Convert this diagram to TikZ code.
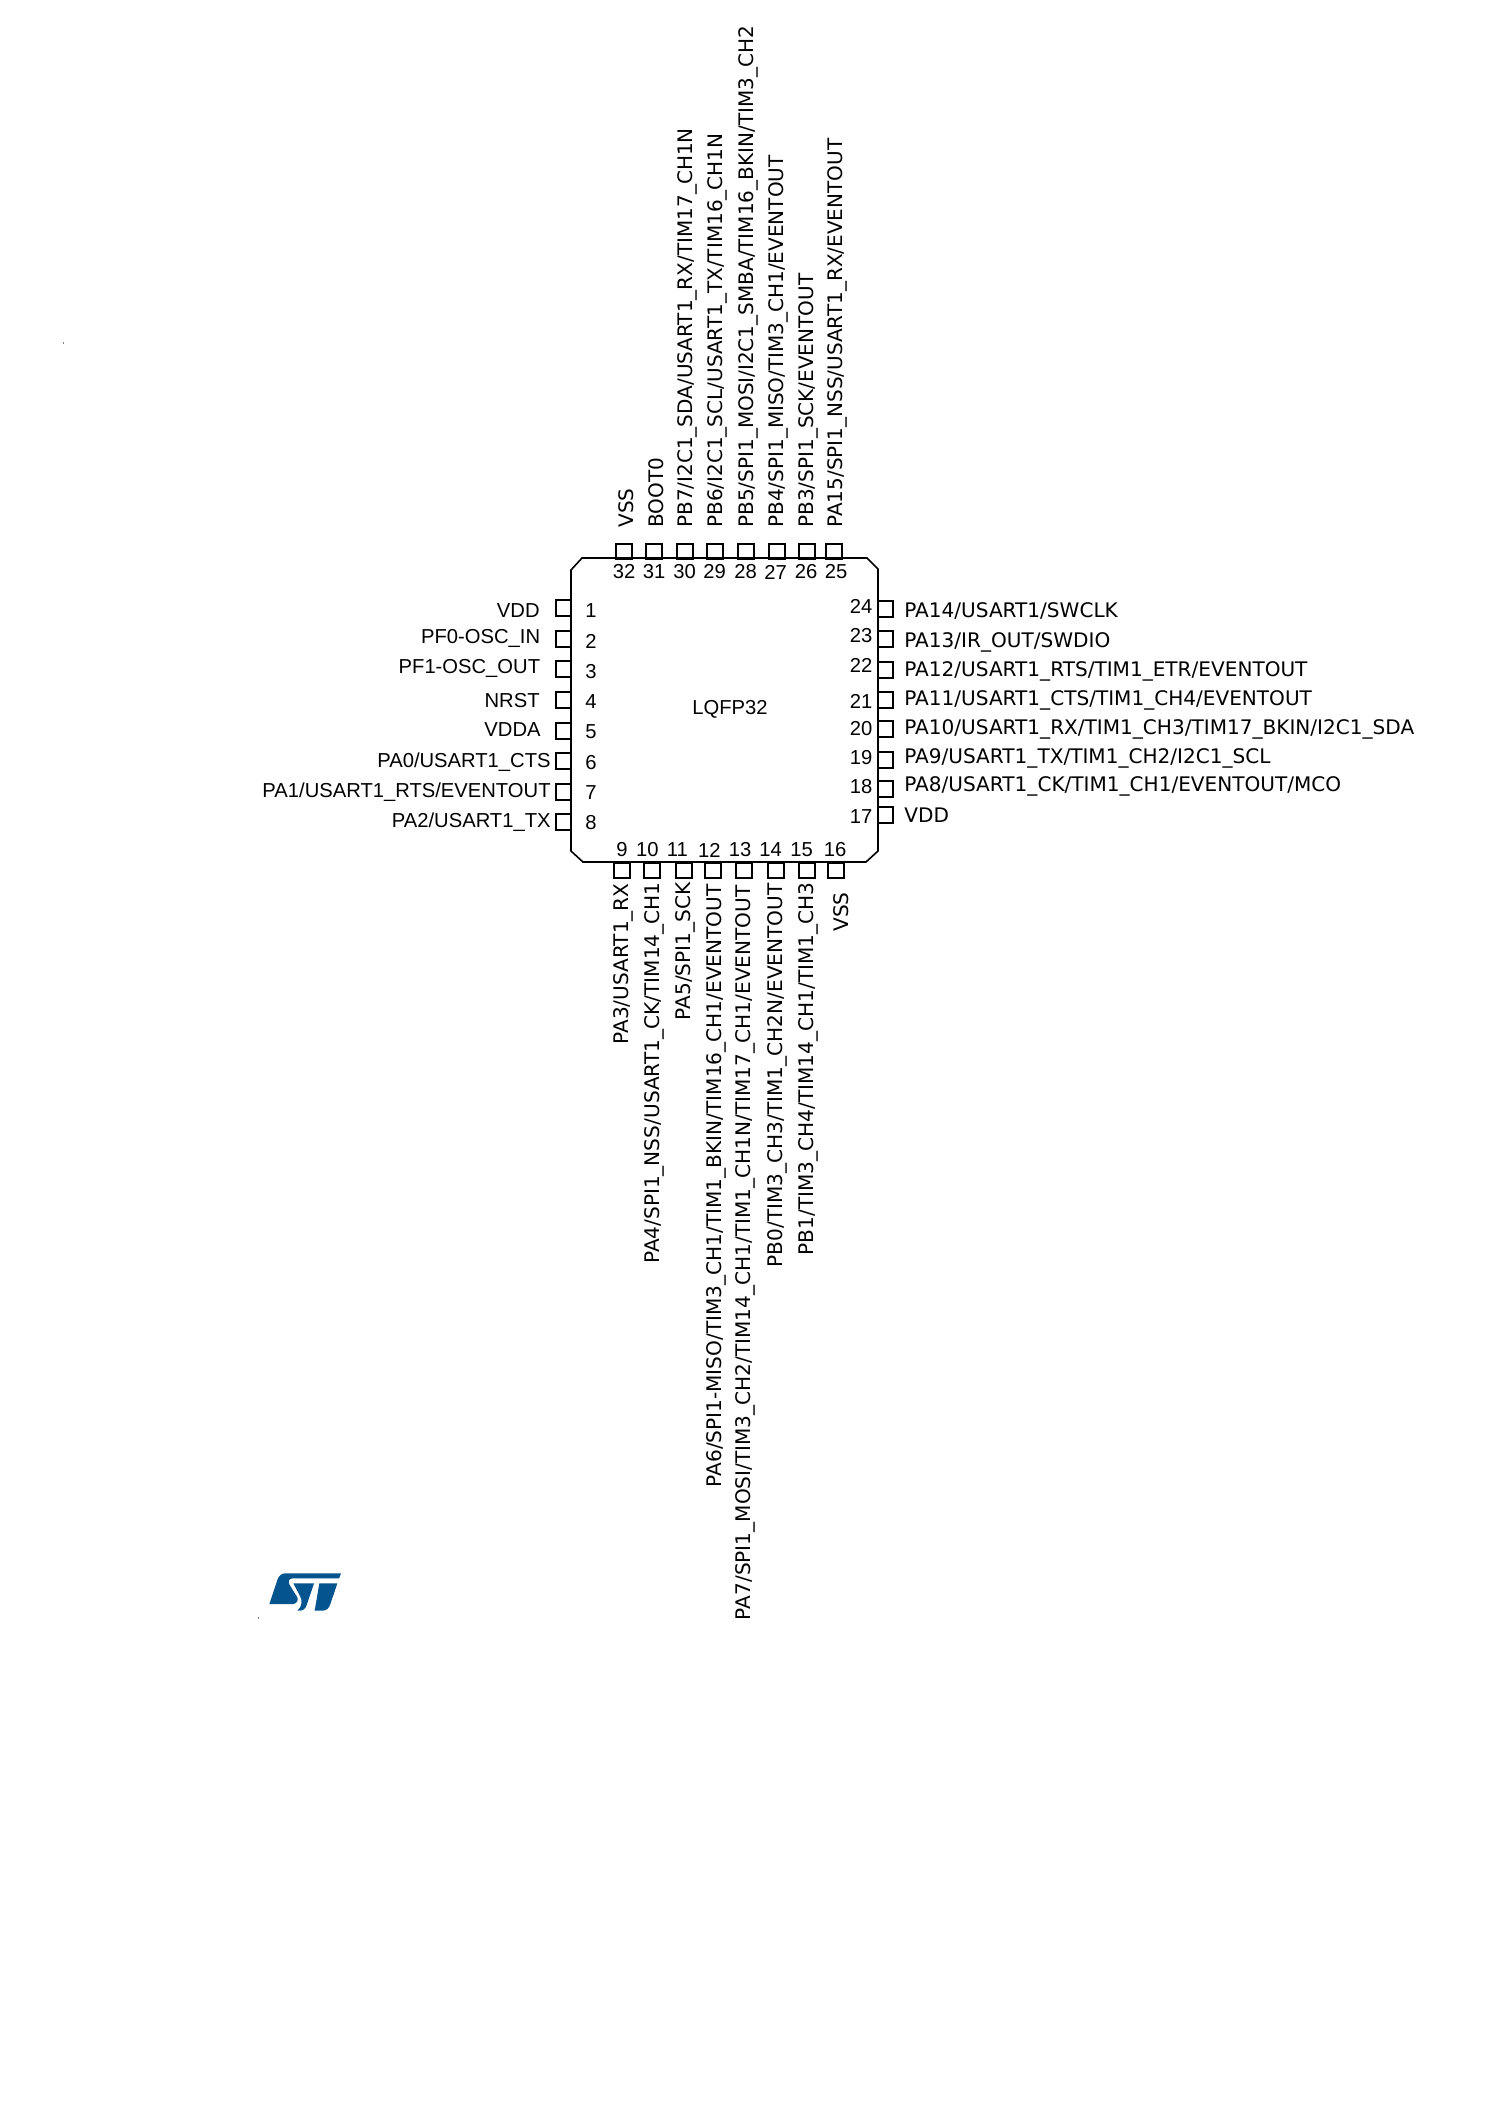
\documentclass[tikz,border=0pt]{standalone}
\usepackage{fontspec}
\setmainfont{Liberation Sans}
\newfontfamily\labelfont{DejaVu Sans}
\definecolor{stblue}{HTML}{03548F}
\tikzset{
  pinv/.style={draw=black,line width=1pt,minimum width=8pt,minimum height=7.5pt,inner sep=0pt,outer sep=0pt},
  pinh/.style={draw=black,line width=1pt,minimum width=7.5pt,minimum height=8pt,inner sep=0pt,outer sep=0pt},
  pinnum/.style={font=\fontsize{10.1}{12}\selectfont,inner sep=0pt,text=black},
  llabel/.style={font=\fontsize{10.1}{12}\selectfont,inner sep=0pt,anchor=base east,text=black},
  rlabel/.style={font=\labelfont\fontsize{10.03}{12}\selectfont,inner sep=0pt,anchor=base west,text=black},
  vlabel/.style={font=\labelfont\fontsize{10}{12}\selectfont,inner sep=0pt,anchor=base west,rotate=90,text=black},
  vlabelend/.style={font=\labelfont\fontsize{10.05}{12}\selectfont,inner sep=0pt,anchor=base east,rotate=90,text=black},
}
\begin{document}
\begin{tikzpicture}[x=0.5pt,y=-0.5pt]
\useasboundingbox (0,0) rectangle (1500,2121);
\fill[white] (0,0) rectangle (1500,2121);
% package outline
\draw[line width=0.8pt,black] (582,558) -- (867,558) -- (878,569) -- (878,851) -- (866,862) -- (583,862) -- (571,851) -- (571,570) -- cycle;
\node[font=\fontsize{10.1}{12}\selectfont,inner sep=0pt,text=black] (pkg) at (730,709) {LQFP32};
% left pins
\node[pinh] (pin1) at (563.5,608) {};
\node[pinh] (pin2) at (563.5,639) {};
\node[pinh] (pin3) at (563.5,669) {};
\node[pinh] (pin4) at (563.5,700) {};
\node[pinh] (pin5) at (563.5,731) {};
\node[pinh] (pin6) at (563.5,761) {};
\node[pinh] (pin7) at (563.5,792) {};
\node[pinh] (pin8) at (563.5,822) {};
% bottom pins
\node[pinv] (pin9) at (622,870) {};
\node[pinv] (pin10) at (652.3,870) {};
\node[pinv] (pin11) at (683.7,870) {};
\node[pinv] (pin12) at (713.3,870) {};
\node[pinv] (pin13) at (744.3,870) {};
\node[pinv] (pin14) at (775.5,870) {};
\node[pinv] (pin15) at (806.5,870) {};
\node[pinv] (pin16) at (836,870) {};
% right pins
\node[pinh] (pin17) at (885,815) {};
\node[pinh] (pin18) at (885,789) {};
\node[pinh] (pin19) at (885,759.7) {};
\node[pinh] (pin20) at (885,729.3) {};
\node[pinh] (pin21) at (885,700) {};
\node[pinh] (pin22) at (885,669.7) {};
\node[pinh] (pin23) at (885,639) {};
\node[pinh] (pin24) at (885,609) {};
% top pins
\node[pinv] (pin25) at (834,551) {};
\node[pinv] (pin26) at (806.7,551) {};
\node[pinv] (pin27) at (776.5,551) {};
\node[pinv] (pin28) at (745.7,551) {};
\node[pinv] (pin29) at (715.3,551) {};
\node[pinv] (pin30) at (684.7,551) {};
\node[pinv] (pin31) at (654,551) {};
\node[pinv] (pin32) at (624,551) {};
% pin numbers
\node[pinnum] (n1) at (591,611) {1};
\node[pinnum] (n2) at (591,641) {2};
\node[pinnum] (n3) at (591,671.7) {3};
\node[pinnum] (n4) at (591,702) {4};
\node[pinnum] (n5) at (591,732) {5};
\node[pinnum] (n6) at (591,762.3) {6};
\node[pinnum] (n7) at (591,792.7) {7};
\node[pinnum] (n8) at (591,822.7) {8};
\node[pinnum] (n9) at (622,850) {9};
\node[pinnum] (n10) at (647.3,850) {10};
\node[pinnum] (n11) at (677.3,850) {11};
\node[pinnum] (n12) at (709.3,850) {12};
\node[pinnum] (n13) at (740,850) {13};
\node[pinnum] (n14) at (770.7,850) {14};
\node[pinnum] (n15) at (801.7,850) {15};
\node[pinnum] (n16) at (835,850) {16};
\node[pinnum] (n17) at (861,816.7) {17};
\node[pinnum] (n18) at (861,786.7) {18};
\node[pinnum] (n19) at (861,757.3) {19};
\node[pinnum] (n20) at (861,728.3) {20};
\node[pinnum] (n21) at (861,701.7) {21};
\node[pinnum] (n22) at (861,665.7) {22};
\node[pinnum] (n23) at (861,636) {23};
\node[pinnum] (n24) at (861,606.7) {24};
\node[pinnum] (n25) at (836,572) {25};
\node[pinnum] (n26) at (806,572) {26};
\node[pinnum] (n27) at (775.5,572) {27};
\node[pinnum] (n28) at (745.7,572) {28};
\node[pinnum] (n29) at (714.7,572) {29};
\node[pinnum] (n30) at (684.7,572) {30};
\node[pinnum] (n31) at (654,572) {31};
\node[pinnum] (n32) at (624,572) {32};
% left labels
\node[llabel] (l1) at (540,617.7) {VDD};
\node[llabel] (l2) at (540.5,643.2) {PF0-OSC\_IN};
\node[llabel] (l3) at (540.5,673.2) {PF1-OSC\_OUT};
\node[llabel] (l4) at (540,707.7) {NRST};
\node[llabel] (l5) at (541,736.2) {VDDA};
\node[llabel] (l6) at (551,767.2) {PA0/USART1\_CTS};
\node[llabel] (l7) at (551,797.2) {PA1/USART1\_RTS/EVENTOUT};
\node[llabel] (l8) at (551,827.2) {PA2/USART1\_TX};
% right labels
\node[rlabel] (l24) at (904,617.7) {PA14/USART1/SWCLK};
\node[rlabel] (l23) at (904,647) {PA13/IR\_OUT/SWDIO};
\node[rlabel] (l22) at (904,676) {PA12/USART1\_RTS/TIM1\_ETR/EVENTOUT};
\node[rlabel] (l21) at (904,705.5) {PA11/USART1\_CTS/TIM1\_CH4/EVENTOUT};
\node[rlabel] (l20) at (904,734.5) {PA10/USART1\_RX/TIM1\_CH3/TIM17\_BKIN/I2C1\_SDA};
\node[rlabel] (l19) at (904,763.7) {PA9/USART1\_TX/TIM1\_CH2/I2C1\_SCL};
\node[rlabel] (l18) at (904,791.5) {PA8/USART1\_CK/TIM1\_CH1/EVENTOUT/MCO};
\node[rlabel] (l17) at (904,822) {VDD};
% top labels
\node[vlabel] (l32) at (633.3,528) {VSS};
\node[vlabel] (l31) at (663.2,528) {BOOT0};
\node[vlabel] (l30) at (692.7,528) {PB7/I2C1\_SDA/USART1\_RX/TIM17\_CH1N};
\node[vlabel] (l29) at (722.7,528) {PB6/I2C1\_SCL/USART1\_TX/TIM16\_CH1N};
\node[vlabel] (l28) at (753.2,528) {PB5/SPI1\_MOSI/I2C1\_SMBA/TIM16\_BKIN/TIM3\_CH2};
\node[vlabel] (l27) at (783.3,528) {PB4/SPI1\_MISO/TIM3\_CH1/EVENTOUT};
\node[vlabel] (l26) at (813.3,528) {PB3/SPI1\_SCK/EVENTOUT};
\node[vlabel] (l25) at (842.2,528) {PA15/SPI1\_NSS/USART1\_RX/EVENTOUT};
% bottom labels
\node[vlabelend] (l9) at (628.3,883) {PA3/USART1\_RX};
\node[vlabelend] (l10) at (659.3,882) {PA4/SPI1\_NSS/USART1\_CK/TIM14\_CH1};
\node[vlabelend] (l11) at (690,882) {PA5/SPI1\_SCK};
\node[vlabelend] (l12) at (721.2,884) {PA6/SPI1-MISO/TIM3\_CH1/TIM1\_BKIN/TIM16\_CH1/EVENTOUT};
\node[vlabelend] (l13) at (750.5,885) {PA7/SPI1\_MOSI/TIM3\_CH2/TIM14\_CH1/TIM1\_CH1N/TIM17\_CH1/EVENTOUT};
\node[vlabelend] (l14) at (782,883) {PB0/TIM3\_CH3/TIM1\_CH2N/EVENTOUT};
\node[vlabelend] (l15) at (813,882) {PB1/TIM3\_CH4/TIM14\_CH1/TIM1\_CH3};
\node[vlabelend] (l16) at (848,892) {VSS};
% logo
\begin{scope}[shift={(240,1560)},x=0.1667pt,y=-0.1667pt]
\fill[stblue] (303,40) -- (297,55) -- (158,55) .. controls (146,55) and (143,66) .. (149,75) -- (172,112) .. controls (176,120) and (170,132) .. (158,132) -- (88,132) -- (112,60) .. controls (116,48) and (124,40) .. (135,40) -- cycle;
\fill[stblue] (160,70) -- (222,70) -- (200,135) .. controls (196,146) and (190,152) .. (178,152) -- (172,152) .. controls (186,140) and (188,122) .. (180,108) -- cycle;
\fill[stblue] (238,70) -- (292,70) -- (270,135) .. controls (266,146) and (258,152) .. (246,152) -- (225,152) .. controls (222,152) and (224,148) .. (225,146) -- cycle;
\end{scope}
% specks
\fill[black!50] (63,342) rectangle (64,344);
\fill[black!50] (258,1617) rectangle (259,1619);
\end{tikzpicture}
\end{document}
